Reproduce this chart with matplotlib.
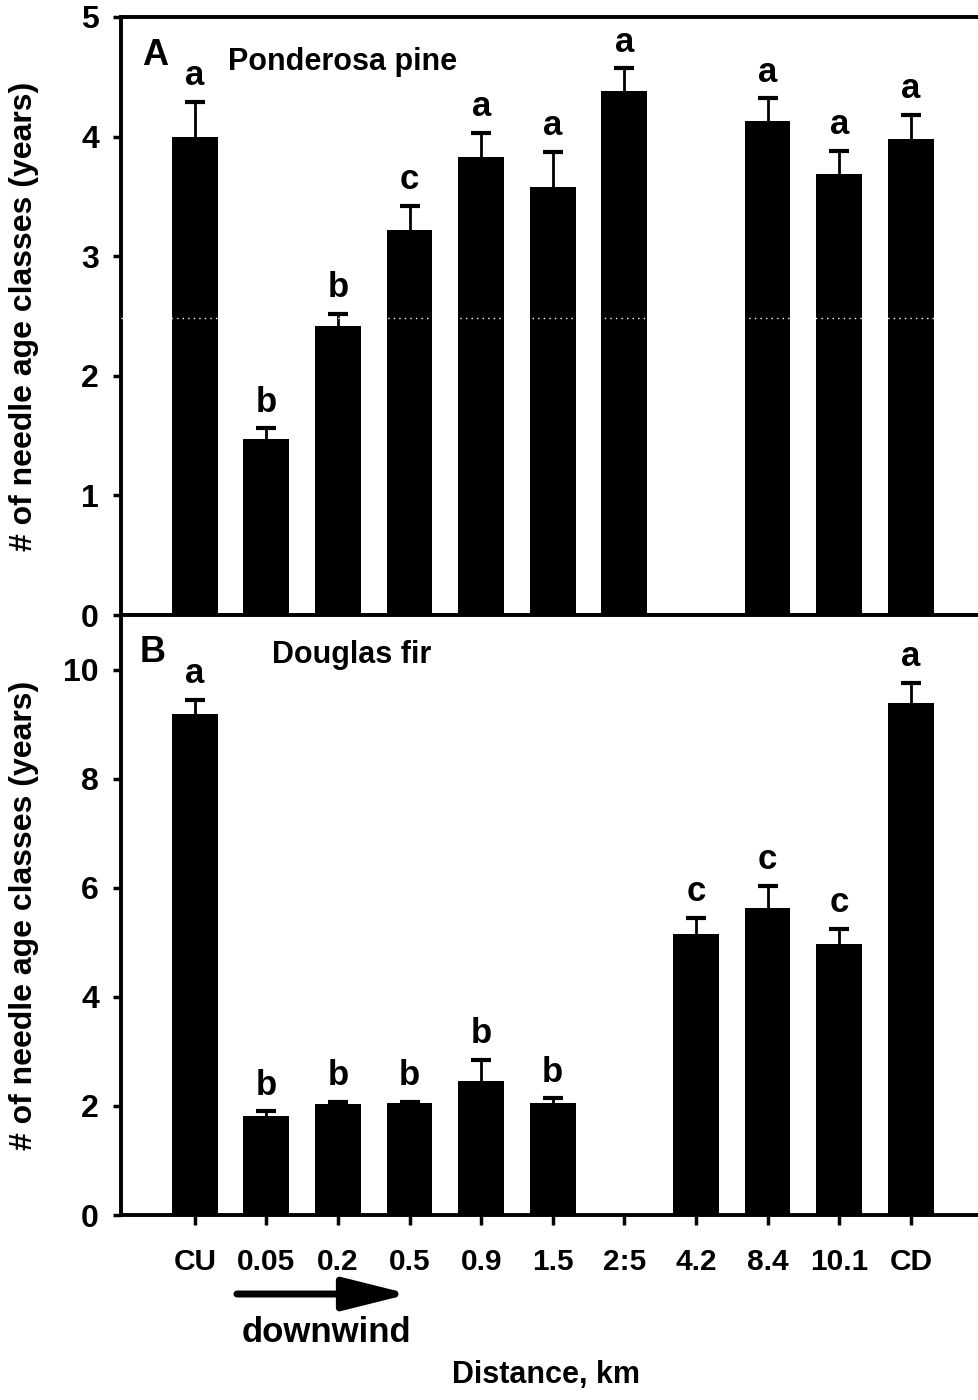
import numpy as np
import matplotlib.pyplot as plt
from matplotlib.patches import FancyArrowPatch

sites = ['CU', '0.05', '0.2', '0.5', '0.9', '1.5', '2:5', '4.2', '8.4', '10.1', 'CD']

# Ponderosa pine: mean and SE of needle age classes (no trees at 4.2 km)
pine_mean = [4.00, 1.47, 2.42, 3.22, 3.83, 3.58, 4.38, np.nan, 4.13, 3.69, 3.98]
pine_se = [0.29, 0.09, 0.10, 0.20, 0.20, 0.29, 0.19, np.nan, 0.19, 0.19, 0.20]
pine_letters = ['a', 'b', 'b', 'c', 'a', 'a', 'a', '', 'a', 'a', 'a']

# Douglas fir (no trees at 2.5 km)
fir_mean = [9.18, 1.81, 2.04, 2.05, 2.45, 2.05, np.nan, 5.16, 5.63, 4.97, 9.38]
fir_se = [0.27, 0.09, 0.03, 0.03, 0.40, 0.09, np.nan, 0.29, 0.40, 0.28, 0.38]
fir_letters = ['a', 'b', 'b', 'b', 'b', 'b', '', 'c', 'c', 'c', 'a']

plt.rcParams['font.family'] = ['Liberation Sans', 'DejaVu Sans']
plt.rcParams['font.weight'] = 'bold'
plt.rcParams['axes.labelweight'] = 'bold'

x = np.arange(len(sites))

fig = plt.figure(figsize=(9.79, 14), dpi=100)
axA = fig.add_axes([0.1236, 0.5607, 0.8784, 0.4272])
axB = fig.add_axes([0.1236, 0.1321, 0.8784, 0.4286])


def draw_panel(ax, mean, se, letters, ymax, yticks):
    mean = np.array(mean)
    se = np.array(se)
    ax.bar(x, mean, width=0.64, color='black', zorder=2)
    _, caps, _ = ax.errorbar(x, mean, yerr=[np.zeros_like(se), se], fmt='none',
                             ecolor='black', elinewidth=2, capsize=7, capthick=3, zorder=3)
    caps[0].set_visible(False)  # only the upper cap
    for xi, m, s, lab in zip(x, mean, se, letters):
        if lab:
            ax.annotate(lab, (xi, m + s), xytext=(0, 12), textcoords='offset points',
                        ha='center', va='baseline', fontsize=25)
    ax.set_xlim(-1.03, 10.98)
    ax.set_ylim(0, ymax)
    ax.set_yticks(yticks)
    ax.tick_params(axis='y', direction='out', length=6, width=2.5, labelsize=23, pad=10)
    for lbl in ax.get_yticklabels():
        lbl.set_fontweight('bold')
    for side in ['left', 'top', 'bottom']:
        ax.spines[side].set_linewidth(2.8)
    ax.spines['right'].set_visible(False)
    ax.set_ylabel('# of needle age classes (years)', fontsize=23, fontweight='bold')
    ax.yaxis.set_label_coords(-0.095, 0.5)


draw_panel(axA, pine_mean, pine_se, pine_letters, 5, range(0, 6))
axA.axhline(2.48, color='white', ls=(0, (1, 3)), lw=1, zorder=4)
axA.set_xticks([])
axA.text(0.024, 0.92, 'A', transform=axA.transAxes, fontsize=26, va='baseline')
axA.text(0.1246, 0.911, 'Ponderosa pine', transform=axA.transAxes, fontsize=22, va='baseline')

draw_panel(axB, fir_mean, fir_se, fir_letters, 11, range(0, 11, 2))
axB.set_xticks(x)
axB.set_xticklabels(sites, fontweight='bold')
axB.tick_params(axis='x', direction='out', length=7, width=2.5, labelsize=21.5, pad=17)
axB.text(0.022, 0.922, 'B', transform=axB.transAxes, fontsize=26, va='baseline')
axB.text(0.176, 0.92, 'Douglas fir', transform=axB.transAxes, fontsize=22, va='baseline')

# downwind arrow and axis title below the tick labels
fig.add_artist(FancyArrowPatch(
    (0.242, 0.0757), (0.418, 0.0757), transform=fig.transFigure,
    arrowstyle='-|>,head_length=2.0,head_width=0.5', mutation_scale=20,
    lw=5, color='black', shrinkA=0, shrinkB=0))
fig.text(0.333, 0.0479, 'downwind', ha='center', va='center', fontsize=25)
fig.text(0.558, 0.0121, 'Distance, km', ha='center', va='baseline', fontsize=22)

fig.savefig('out.png', dpi=100)
